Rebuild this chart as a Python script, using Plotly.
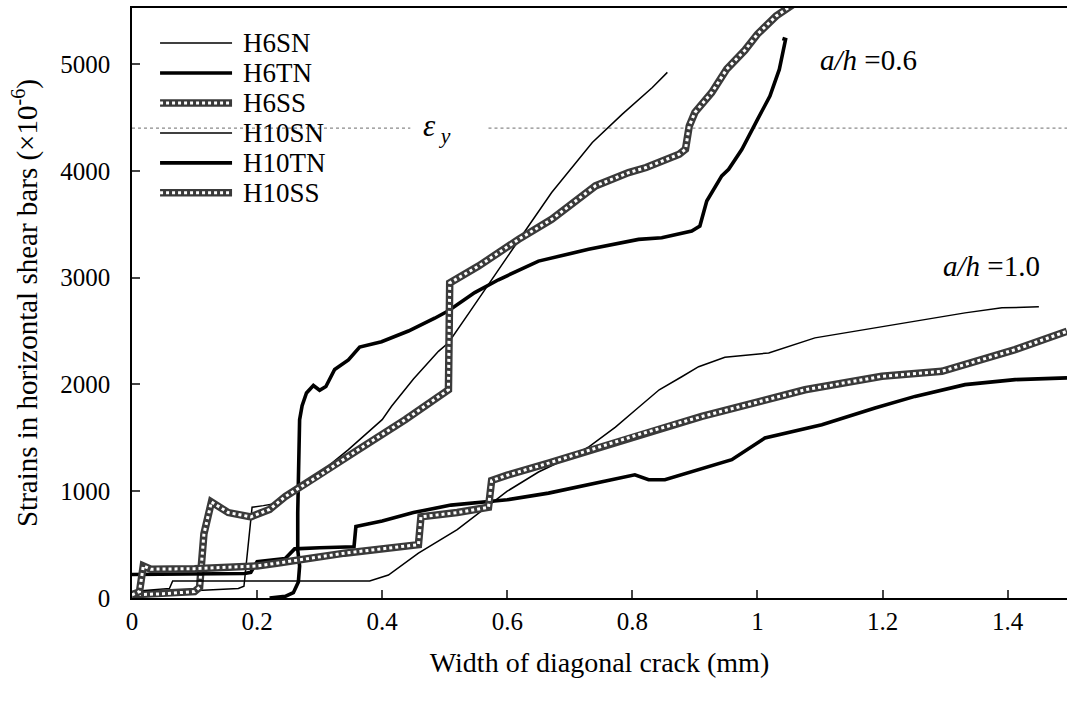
import plotly.graph_objects as go

# ---- data ----
H6SN_x = [0, 0.05, 0.10, 0.17, 0.179, 0.185, 0.192, 0.21, 0.23, 0.26, 0.30, 0.346, 0.40, 0.415, 0.45, 0.49, 0.506, 0.54, 0.575, 0.623, 0.671, 0.736, 0.784, 0.832, 0.856]
H6SN_y = [40, 55, 70, 90, 110, 450, 850, 865, 885, 1000, 1170, 1390, 1670, 1795, 2050, 2310, 2390, 2680, 2983, 3390, 3797, 4266, 4531, 4781, 4922]

H6TN_x = [0.22, 0.245, 0.258, 0.266, 0.268, 0.265, 0.265, 0.267, 0.268, 0.272, 0.279, 0.29, 0.30, 0.31, 0.324, 0.346, 0.364, 0.399, 0.442, 0.484, 0.506, 0.548, 0.586, 0.65, 0.73, 0.81, 0.847, 0.895, 0.908, 0.919, 0.927, 0.943, 0.954, 0.975, 1.0, 1.02, 1.035, 1.042, 1.045, 1.04]
H6TN_y = [0, 15, 50, 150, 300, 450, 800, 1200, 1670, 1800, 1920, 1990, 1945, 1980, 2140, 2230, 2350, 2400, 2500, 2620, 2690, 2860, 2980, 3155, 3265, 3358, 3374, 3436, 3483, 3717, 3797, 3953, 4015, 4200, 4480, 4700, 4950, 5150, 5230, 5240]

H6SS_x = [0, 0.05, 0.10, 0.108, 0.115, 0.127, 0.154, 0.19, 0.22, 0.245, 0.30, 0.362, 0.437, 0.506, 0.508, 0.554, 0.618, 0.671, 0.741, 0.794, 0.822, 0.875, 0.885, 0.891, 0.90, 0.927, 0.951, 0.98, 1.0, 1.03, 1.06]
H6SS_y = [30, 40, 60, 100, 600, 900, 800, 760, 830, 950, 1150, 1390, 1670, 1950, 2950, 3108, 3358, 3546, 3859, 3984, 4031, 4156, 4203, 4420, 4547, 4734, 4953, 5130, 5280, 5450, 5570]

H10SN_x = [0, 0.06, 0.065, 0.38, 0.41, 0.458, 0.52, 0.57, 0.60, 0.65, 0.70, 0.731, 0.773, 0.805, 0.843, 0.879, 0.906, 0.948, 1.018, 1.092, 1.172, 1.252, 1.332, 1.391, 1.45]
H10SN_y = [60, 90, 160, 160, 215, 420, 640, 870, 1000, 1180, 1320, 1417, 1600, 1760, 1950, 2072, 2166, 2254, 2295, 2436, 2514, 2592, 2670, 2717, 2727]

H10TN_x = [0, 0.18, 0.19, 0.20, 0.245, 0.26, 0.30, 0.355, 0.358, 0.40, 0.45, 0.51, 0.60, 0.666, 0.804, 0.826, 0.852, 0.959, 1.012, 1.103, 1.188, 1.252, 1.332, 1.412, 1.495]
H10TN_y = [220, 230, 240, 340, 370, 460, 470, 480, 670, 720, 800, 870, 920, 982, 1154, 1107, 1107, 1295, 1498, 1623, 1780, 1888, 1998, 2045, 2061]

H10SS_x = [0, 0.012, 0.018, 0.03, 0.10, 0.20, 0.234, 0.34, 0.458, 0.462, 0.52, 0.57, 0.575, 0.60, 0.666, 0.81, 0.911, 1.076, 1.199, 1.295, 1.359, 1.412, 1.495]
H10SS_y = [30, 60, 300, 270, 275, 300, 328, 420, 500, 760, 800, 850, 1100, 1150, 1263, 1530, 1700, 1950, 2076, 2123, 2233, 2326, 2498]

SERIES_NAMES = ["H6SN", "H6TN", "H6SS", "H10SN", "H10TN", "H10SS"]
SERIES_STYLE = ["thin", "thick", "pattern", "thin", "thick", "pattern"]

EPS_Y = 4400
EPS_GAP = [0.445, 0.57]
X_TICKS = [0, 0.2, 0.4, 0.6, 0.8, 1, 1.2, 1.4]
Y_TICKS = [0, 1000, 2000, 3000, 4000, 5000]

FONT = "Liberation Serif"
THIN = dict(color="black", width=1.5)
THICK = dict(color="black", width=3.6)
PAT_BASE = dict(color="#3a3a3a", width=7.5)
PAT_TOP = dict(color="white", width=3.0, dash="dot")

fig = go.Figure()

data = {
    "H6SN": (H6SN_x, H6SN_y), "H6TN": (H6TN_x, H6TN_y), "H6SS": (H6SS_x, H6SS_y),
    "H10SN": (H10SN_x, H10SN_y), "H10TN": (H10TN_x, H10TN_y), "H10SS": (H10SS_x, H10SS_y),
}

for name, style in zip(SERIES_NAMES, SERIES_STYLE):
    x, y = data[name]
    if style == "pattern":
        fig.add_trace(go.Scatter(x=x, y=y, name=name, mode="lines", line=PAT_BASE, showlegend=False))
        fig.add_trace(go.Scatter(x=x, y=y, name=name, mode="lines", line=PAT_TOP, showlegend=False,
                                 hoverinfo="skip"))
    else:
        fig.add_trace(go.Scatter(x=x, y=y, name=name, mode="lines",
                                 line=THIN if style == "thin" else THICK, showlegend=False))

# hand-drawn legend (long line samples as in the reference)
LEG_X0, LEG_X1, LEG_TX = 0.030, 0.107, 0.117
LEG_Y0, LEG_DY = 0.9407, 0.0508
for i, (name, style) in enumerate(zip(SERIES_NAMES, SERIES_STYLE)):
    yy = LEG_Y0 - i * LEG_DY
    if style == "pattern":
        fig.add_shape(type="line", xref="paper", yref="paper", x0=LEG_X0, x1=LEG_X1, y0=yy, y1=yy, line=PAT_BASE)
        fig.add_shape(type="line", xref="paper", yref="paper", x0=LEG_X0, x1=LEG_X1, y0=yy, y1=yy, line=PAT_TOP)
    else:
        fig.add_shape(type="line", xref="paper", yref="paper", x0=LEG_X0, x1=LEG_X1, y0=yy, y1=yy,
                      line=THIN if style == "thin" else THICK)
    fig.add_annotation(xref="paper", yref="paper", x=LEG_TX, y=yy, text=name, showarrow=False,
                       xanchor="left", yanchor="middle", font=dict(family=FONT, size=27, color="black"))

# yield strain reference line with a gap for its label
for x0, x1 in [(0, EPS_GAP[0]), (EPS_GAP[1], 1.5)]:
    fig.add_shape(type="line", x0=x0, x1=x1, y0=EPS_Y, y1=EPS_Y, xref="x", yref="y",
                  line=dict(color="#8a8a8a", width=1.3, dash="dot"), layer="below")

fig.add_annotation(x=0.488, y=EPS_Y, text="<i>ε</i><sub> <i>y</i></sub>", showarrow=False,
                   font=dict(family=FONT, size=31, color="black"), xanchor="center", yanchor="middle")
fig.add_annotation(x=1.178, y=5037, text="<i>a/h</i> =0.6", showarrow=False,
                   font=dict(family=FONT, size=29, color="black"))
fig.add_annotation(x=1.375, y=3108, text="<i>a/h</i> =1.0", showarrow=False,
                   font=dict(family=FONT, size=29, color="black"))

fig.update_layout(
    width=1067, height=711,
    margin=dict(l=132, r=0, t=8, b=113),
    paper_bgcolor="white", plot_bgcolor="white",
    font=dict(family=FONT, size=25, color="black"),
    showlegend=False,
    xaxis=dict(range=[0, 1.495], tickvals=X_TICKS, ticks="inside", ticklen=8, tickwidth=1.5,
               showline=True, linecolor="black", linewidth=1.5, mirror=True,
               showgrid=False, zeroline=False, ticklabelstandoff=0,
               tickfont=dict(family=FONT, size=25),
               title=dict(text="Width of diagonal crack (mm)", standoff=19,
                          font=dict(family=FONT, size=28))),
    yaxis=dict(range=[0, 5525], tickvals=Y_TICKS, tickformat="d", ticks="inside", ticklen=8,
               tickwidth=1.5, showline=True, linecolor="black", linewidth=1.5,
               showgrid=False, zeroline=False, ticklabelstandoff=15,
               tickfont=dict(family=FONT, size=25),
               title=dict(text="Strains in horizontal shear bars (×10<sup>-6</sup>)", standoff=14,
                          font=dict(family=FONT, size=29))),
)

fig.write_html("out.html")
